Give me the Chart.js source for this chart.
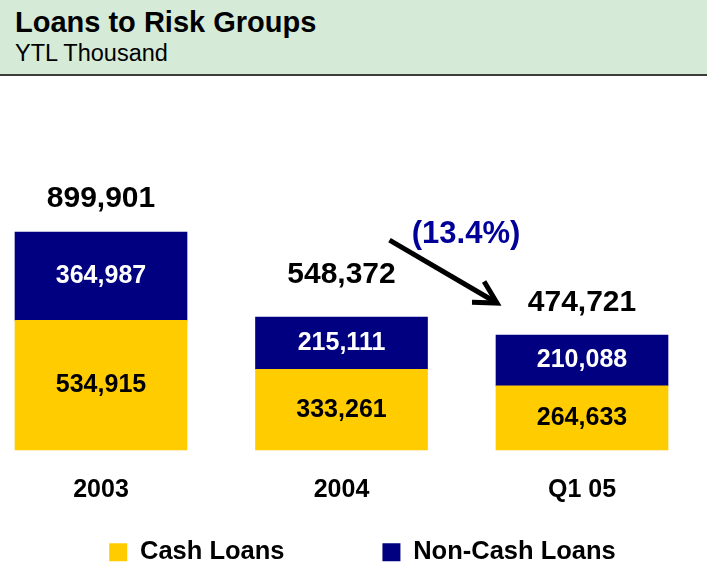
<!DOCTYPE html>
<html>
<head>
<meta charset="utf-8">
<title>Loans to Risk Groups</title>
<script src="https://cdn.jsdelivr.net/npm/chart.js@4"></script>
<style>
  html, body { margin: 0; padding: 0; background: #fff; overflow: hidden; }
  #wrap { position: relative; width: 707px; height: 565px; }
  #head { position: absolute; left: 0; top: 0; width: 707px; height: 74px; background: #d5ebd8; border-bottom: 2px solid #3c3c3c; z-index: 2; font-family: "Liberation Sans", Arial, sans-serif; color: #000; }
  #head .t { position: absolute; left: 15px; top: 6px; font-size: 29px; font-weight: bold; white-space: nowrap; }
  #head .s { position: absolute; left: 15px; top: 40px; font-size: 23.5px; white-space: nowrap; }
  canvas { position: absolute; left: 0; top: 0; }
</style>
</head>
<body>
<div id="wrap">
  <div id="head"><div class="t">Loans to Risk Groups</div><div class="s">YTL Thousand</div></div>
  <canvas id="c" width="707" height="565"></canvas>
</div>
<script>
// values in YTL thousand
const periods = ['2003', '2004', 'Q1 05'];
const cashLoans = [534915, 333261, 264633];
const nonCashLoans = [364987, 215111, 210088];
const totals = [899901, 548372, 474721]; // as printed (2003 rounds to ...901)

// how far each total sits above its bar top
const totalLift = [33, 42, 32];

const FONT = '"Liberation Sans", Arial, sans-serif';
const fmt = (v) => v.toLocaleString('en-US');

const pct = (totals[2] / totals[1] - 1) * 100;
const pctText = pct < 0 ? `(${Math.abs(pct).toFixed(1)}%)` : `${pct.toFixed(1)}%`;

const barText = {
  id: 'barText',
  afterDatasetsDraw(chart) {
    const { ctx, scales: { x, y } } = chart;
    ctx.save();
    ctx.textAlign = 'center';
    ctx.textBaseline = 'middle';

    // values inside the segments
    ctx.font = `bold 25px ${FONT}`;
    chart.data.datasets.forEach((ds, di) => {
      chart.getDatasetMeta(di).data.forEach((bar, i) => {
        ctx.fillStyle = ds.labelColor;
        ctx.fillText(fmt(ds.data[i]), bar.x, (bar.y + bar.base) / 2);
      });
    });

    // totals above the bars
    ctx.font = `bold 30px ${FONT}`;
    ctx.fillStyle = '#000';
    totals.forEach((t, i) => {
      ctx.fillText(fmt(t), x.getPixelForValue(i), y.getPixelForValue(t) - totalLift[i]);
    });

    // arrow 2004 -> Q1 05
    const x1 = x.getPixelForValue(1) + 48, y1 = y.getPixelForValue(totals[1]) - 77;
    const x2 = x.getPixelForValue(2) - 85, y2 = y.getPixelForValue(totals[2]) - 32;
    const a = Math.atan2(y2 - y1, x2 - x1);
    const hl = 25, ha = 0.5;
    ctx.strokeStyle = '#000';
    ctx.lineWidth = 5;
    ctx.lineCap = 'butt';
    ctx.lineJoin = 'miter';
    ctx.beginPath();
    ctx.moveTo(x1, y1);
    ctx.lineTo(x2 - 2 * Math.cos(a), y2 - 2 * Math.sin(a));
    ctx.stroke();
    ctx.beginPath();
    ctx.moveTo(x2 - hl * Math.cos(a - ha), y2 - hl * Math.sin(a - ha));
    ctx.lineTo(x2, y2);
    ctx.lineTo(x2 - hl * Math.cos(a + ha), y2 - hl * Math.sin(a + ha));
    ctx.stroke();

    ctx.font = `bold 31px ${FONT}`;
    ctx.fillStyle = '#000099';
    ctx.fillText(pctText, x.getPixelForValue(1) + 124.5, y1 - 6);
    ctx.restore();
  }
};

new Chart(document.getElementById('c'), {
  type: 'bar',
  data: {
    labels: periods,
    datasets: [
      { label: 'Cash Loans', data: cashLoans, backgroundColor: '#ffcc00', borderColor: '#ffcc00', borderWidth: 0, labelColor: '#000' },
      { label: 'Non-Cash Loans', data: nonCashLoans, backgroundColor: '#000080', borderColor: '#000080', borderWidth: 0, labelColor: '#fff' },
    ],
  },
  options: {
    responsive: false,
    animation: false,
    barThickness: 172,
    clip: false,
    layout: { padding: { top: 90, left: 18, right: 0, bottom: -10 } },
    plugins: {
      tooltip: { enabled: false },
      legend: {
        position: 'bottom',
        labels: {
          color: '#000',
          font: { family: FONT, size: 25.5, weight: 'bold' },
          boxWidth: 18,
          boxHeight: 18,
          padding: 20,
          generateLabels(chart) {
            const items = Chart.defaults.plugins.legend.labels.generateLabels(chart);
            // widen the gap between the two entries
            items[0].text = items[0].text + '           ';
            return items;
          },
        },
      },
    },
    scales: {
      x: {
        stacked: true,
        offset: false,
        grid: { display: false, drawTicks: false },
        border: { display: false },
        ticks: { color: '#000', font: { family: FONT, size: 25, weight: 'bold' }, padding: 25.5, autoSkip: false, maxRotation: 0 },
        afterFit(s) { s.height = 69.5; },
      },
      y: {
        stacked: true,
        min: 0,
        max: 1486000,
        grid: { display: false, drawTicks: false },
        border: { display: false },
        ticks: { display: false },
        afterFit(s) { s.width = 83; },
      },
      yRight: {
        position: 'right',
        grid: { display: false, drawTicks: false },
        border: { display: false },
        ticks: { display: false },
        afterFit(s) { s.width = 125; },
      },
    },
  },
  plugins: [barText],
});
</script>
</body>
</html>
